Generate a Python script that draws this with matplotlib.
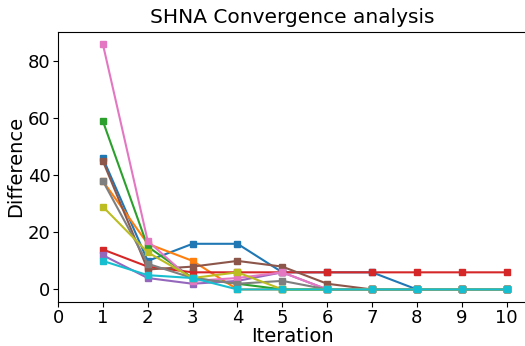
import matplotlib
matplotlib.use("Agg")
import matplotlib.pyplot as plt

iterations = list(range(1, 11))

# one row per run, tab10 colour order
runs = {
    "run0": [46, 10, 16, 16, 6, 6, 6, 0, 0, 0],
    "run1": [38, 16, 10, 0, 0, 0, 0, 0, 0, 0],
    "run2": [59, 15, 4, 2, 0, 0, 0, 0, 0, 0],
    "run3": [14, 8, 6, 6, 6, 6, 6, 6, 6, 6],
    "run4": [12, 4, 2, 3, 6, 0, 0, 0, 0, 0],
    "run5": [45, 7, 8, 10, 8, 2, 0, 0, 0, 0],
    "run6": [86, 17, 3, 4, 6, 0, 0, 0, 0, 0],
    "run7": [38, 9, 4, 2, 3, 0, 0, 0, 0, 0],
    "run8": [29, 13, 4, 6, 0, 0, 0, 0, 0, 0],
    "run9": [10, 5, 4, 0, 0, 0, 0, 0, 0, 0],
}

fig = plt.figure(figsize=(5.25, 3.46), dpi=100)
ax = fig.add_axes([0.1105, 0.128, 0.893, 0.78])

for name, vals in runs.items():
    ax.plot(iterations, vals, marker="s", markersize=5, linewidth=1.5)

ax.set_xticks(range(0, 11))
ax.set_xlim(0, 10.45)
ax.set_ylim(-4.3, 90.3)
ax.tick_params(labelsize=13, pad=2)
ax.set_xlabel("Iteration", fontsize=14, labelpad=0)
ax.set_ylabel("Difference", fontsize=14, labelpad=2)
ax.set_title("SHNA Convergence analysis", fontsize=14.5, pad=6)

fig.savefig("out.png", dpi=100)
